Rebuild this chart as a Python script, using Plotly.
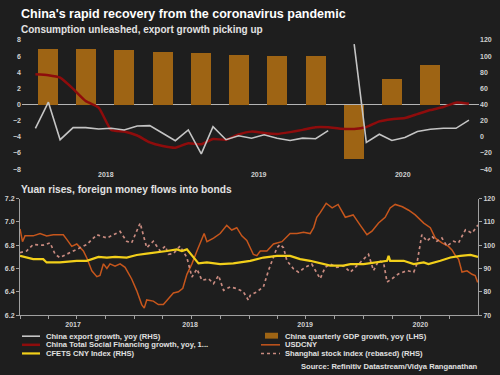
import plotly.graph_objects as go

# ---------------- DATA ----------------
# Top panel: monthly (mid-month) series
top_months = [
    "2018-01-15", "2018-02-15", "2018-03-15", "2018-04-15", "2018-05-15", "2018-06-15",
    "2018-07-15", "2018-08-15", "2018-09-15", "2018-10-15", "2018-11-15", "2018-12-15",
    "2019-01-15", "2019-02-15", "2019-03-15", "2019-04-15", "2019-05-15", "2019-06-15",
    "2019-07-15", "2019-08-15", "2019-09-15", "2019-10-15", "2019-11-15", "2019-12-15",
    "2020-01-15", "2020-02-15", "2020-03-15", "2020-04-15", "2020-05-15", "2020-06-15",
    "2020-07-15", "2020-08-15", "2020-09-15", "2020-10-15", "2020-11-15",
]
export_growth = [10.6, 43, -3.5, 11.4, 11.4, 9.8, 10.6, 8.6, 13.5, 13.9, 4.5, -4.7,
                 8.6, -21, 12.6, -3.5, 1.3, -1.6, 2.6, -1.6, -4.4, -1.6, -2.3, 7.8,
                 None, 115, -6.8, 3.3, -4.4, -0.7, 6.6, 9.4, 10.6, 10.6, 20.8]
tsf_growth = [3.75, 3.63, 3.33, 1.95, 0.45, -0.37, -3.14, -3.33, -3.83, -4.68, -5.13, -5.34,
              -4.78, -4.91, -4.26, -4.36, -3.70, -3.35, -3.53, -3.64, -3.41, -3.13, -2.80, -2.81,
              -3.0, -3.02, -2.77, -2.08, -1.81, -1.67, -1.18, -0.68, -0.30, 0.24, 0.10]

gdp_quarters = ["2018-02-15", "2018-05-15", "2018-08-15", "2018-11-15",
                "2019-02-15", "2019-05-15", "2019-08-15", "2019-11-15",
                "2020-02-15", "2020-05-15", "2020-08-15"]
gdp_growth = [6.9, 6.9, 6.7, 6.5, 6.4, 6.2, 6.0, 6.0, -6.8, 3.2, 4.9]

top_tick_dates = ["2018-07-02", "2019-07-02", "2020-06-10"]
top_tick_text = ["2018", "2019", "2020"]

# Bottom panel
usdcny_dates = [
    "2017-01-01", "2017-01-09", "2017-01-17", "2017-02-12", "2017-03-06", "2017-03-27",
    "2017-04-17", "2017-05-19", "2017-05-30", "2017-06-15", "2017-07-01", "2017-07-22",
    "2017-08-02", "2017-08-18", "2017-09-03", "2017-09-13", "2017-09-24", "2017-10-05",
    "2017-10-15", "2017-10-31", "2017-11-16", "2017-12-02", "2017-12-23", "2018-01-08",
    "2018-01-24", "2018-02-01", "2018-02-09", "2018-03-02", "2018-03-18", "2018-04-03",
    "2018-04-19", "2018-05-05", "2018-05-21", "2018-06-04", "2018-06-17", "2018-07-03",
    "2018-07-19", "2018-08-04", "2018-08-11", "2018-08-20", "2018-09-10", "2018-10-01",
    "2018-10-22", "2018-11-07", "2018-11-23", "2018-12-09", "2018-12-25", "2019-01-15",
    "2019-01-26", "2019-02-06", "2019-02-27", "2019-03-20", "2019-04-16", "2019-05-12",
    "2019-06-03", "2019-06-24", "2019-07-15", "2019-07-26", "2019-08-05", "2019-08-16",
    "2019-09-04", "2019-09-23", "2019-10-12", "2019-11-04", "2019-11-29", "2019-12-22",
    "2020-01-12", "2020-01-28", "2020-02-18", "2020-03-10", "2020-03-26", "2020-04-11",
    "2020-05-04", "2020-05-24", "2020-06-14", "2020-07-11", "2020-08-01", "2020-08-17",
    "2020-09-07", "2020-09-28", "2020-10-09", "2020-10-20", "2020-10-30", "2020-11-10",
    "2020-11-26", "2020-12-12", "2020-12-22", "2020-12-30",
]
usdcny = [
    6.94, 6.83, 6.88, 6.88, 6.90, 6.88, 6.89, 6.89, 6.85, 6.79, 6.81, 6.75,
    6.69, 6.58, 6.53, 6.54, 6.64, 6.60, 6.64, 6.62, 6.64, 6.61, 6.51, 6.41,
    6.29, 6.26, 6.33, 6.32, 6.29, 6.29, 6.34, 6.39, 6.40, 6.43, 6.55, 6.64,
    6.75, 6.85, 6.90, 6.83, 6.86, 6.90, 6.97, 6.93, 6.95, 6.88, 6.84, 6.72,
    6.71, 6.75, 6.75, 6.81, 6.83, 6.90, 6.90, 6.91, 6.90, 6.95, 7.04, 7.08,
    7.16, 7.12, 7.15, 7.04, 7.06, 6.97, 6.89, 6.92, 6.99, 7.04, 7.12, 7.15,
    7.13, 7.10, 7.06, 6.99, 6.95, 6.86, 6.82, 6.79, 6.76, 6.71, 6.68, 6.57,
    6.58, 6.55, 6.54, 6.48,
]

cfets_dates = [
    "2017-01-01", "2017-02-12", "2017-03-16", "2017-03-27", "2017-05-08", "2017-07-01",
    "2017-08-02", "2017-08-18", "2017-09-08", "2017-10-05", "2017-10-31", "2017-12-07",
    "2018-01-08", "2018-02-09", "2018-03-13", "2018-04-14", "2018-05-16", "2018-06-01",
    "2018-06-17", "2018-07-03", "2018-07-24", "2018-08-20", "2018-10-01", "2018-11-12",
    "2018-12-25", "2019-01-05", "2019-02-16", "2019-03-31", "2019-05-12", "2019-06-13",
    "2019-07-15", "2019-08-05", "2019-09-17", "2019-10-29", "2019-11-20", "2020-01-01",
    "2020-02-13", "2020-03-16", "2020-03-21", "2020-03-26", "2020-05-08", "2020-06-09",
    "2020-07-11", "2020-07-26", "2020-09-02", "2020-10-04", "2020-11-05", "2020-12-07",
    "2020-12-31",
]
cfets = [
    95.4, 94.0, 94.0, 92.6, 92.6, 93.3, 93.3, 94.0, 95.0, 94.7, 95.0, 94.7,
    95.8, 96.4, 96.8, 97.5, 98.2, 97.5, 98.2, 95.4, 92.2, 92.6, 91.9, 92.2,
    93.0, 93.3, 94.7, 95.4, 95.4, 94.0, 93.3, 92.6, 91.2, 91.2, 91.9, 91.9,
    92.6, 93.3, 95.4, 93.3, 93.3, 91.9, 92.6, 91.9, 93.3, 94.7, 95.4, 95.8,
    95.0,
]

shanghai_dates = [
    "2017-01-01", "2017-01-22", "2017-02-12", "2017-03-16", "2017-04-07", "2017-04-23",
    "2017-05-08", "2017-05-30", "2017-07-01", "2017-08-02", "2017-09-03", "2017-10-05",
    "2017-11-16", "2017-12-07", "2017-12-23", "2018-01-19", "2018-02-09", "2018-03-02",
    "2018-03-24", "2018-04-09", "2018-04-19", "2018-05-05", "2018-05-26", "2018-06-17",
    "2018-07-03", "2018-07-19", "2018-08-04", "2018-08-25", "2018-09-10", "2018-09-26",
    "2018-10-12", "2018-11-02", "2018-11-23", "2018-12-14", "2018-12-30", "2019-01-05",
    "2019-01-26", "2019-02-16", "2019-03-04", "2019-03-20", "2019-03-31", "2019-04-10",
    "2019-04-21", "2019-05-02", "2019-05-23", "2019-06-08", "2019-06-29", "2019-07-20",
    "2019-08-05", "2019-08-16", "2019-09-01", "2019-09-17", "2019-10-08", "2019-10-29",
    "2019-11-20", "2019-12-11", "2020-01-01", "2020-01-17", "2020-02-02", "2020-02-18",
    "2020-03-05", "2020-03-16", "2020-04-01", "2020-04-22", "2020-05-19", "2020-06-09",
    "2020-06-19", "2020-07-05", "2020-07-21", "2020-08-06", "2020-08-22", "2020-09-07",
    "2020-09-23", "2020-10-14", "2020-10-30", "2020-11-21", "2020-12-12", "2020-12-31",
]
shanghai = [
    96.8, 97.5, 100.3, 100.0, 101.0, 96.1, 94.7, 96.1, 98.2, 100.3, 104.5, 103.1,
    105.9, 101.7, 101.0, 109.5, 98.9, 101.7, 97.5, 99.6, 96.1, 96.4, 99.6, 94.7,
    86.3, 89.8, 84.9, 85.6, 83.5, 87.0, 80.6, 82.1, 81.4, 80.0, 76.4, 78.5,
    80.0, 82.1, 89.1, 94.7, 98.9, 100.3, 98.9, 93.3, 89.8, 88.4, 90.5, 91.9,
    88.4, 85.6, 90.5, 91.9, 90.5, 91.2, 88.4, 91.2, 94.0, 96.1, 89.1, 93.3,
    92.6, 84.2, 85.6, 87.7, 89.1, 88.4, 91.9, 104.5, 101.7, 103.8, 101.7, 103.1,
    99.6, 101.7, 101.0, 106.6, 105.2, 108.7,
]

bottom_tick_dates = ["2017-06-19", "2018-06-27", "2019-06-29", "2020-06-30"]
bottom_tick_text = ["2017", "2018", "2019", "2020"]

# ---------------- STYLE ----------------
W, H = 500, 375
BG = "#1e1e1e"
FONT = "Liberation Sans"
TICK_COLOR = "#d0d0d0"
C_EXPORT = "#c4c4c4"
C_TSF = "#8e0c0c"
C_GDP = "#9e6414"
C_USD = "#c6561c"
C_CFETS = "#f2cf1a"
C_SH = "#c98b80"
AXIS_LINE = "#a0a0a0"


def px(x):
    return x / W


def py(y):
    return 1 - y / H


tickfont = dict(family=FONT, size=7, color=TICK_COLOR, weight="bold")

fig = go.Figure()

# Top panel traces
fig.add_trace(go.Bar(x=gdp_quarters, y=gdp_growth, marker=dict(color=C_GDP, line=dict(width=0)),
                     width=47.7 * 86400000, xaxis="x", yaxis="y", showlegend=False))
fig.add_trace(go.Scatter(x=top_months, y=tsf_growth, mode="lines",
                         line=dict(color=C_TSF, width=2.5, shape="spline", smoothing=0.5),
                         xaxis="x", yaxis="y", showlegend=False))
fig.add_trace(go.Scatter(x=top_months, y=export_growth, mode="lines", line=dict(color=C_EXPORT, width=1.6),
                         xaxis="x", yaxis="y2", showlegend=False, connectgaps=False))

# Bottom panel traces
fig.add_trace(go.Scatter(x=usdcny_dates, y=usdcny, mode="lines", line=dict(color=C_USD, width=1.5),
                         xaxis="x2", yaxis="y3", showlegend=False))
fig.add_trace(go.Scatter(x=shanghai_dates, y=shanghai, mode="lines", line=dict(color=C_SH, width=1.7, dash="dot"),
                         xaxis="x2", yaxis="y4", showlegend=False))
fig.add_trace(go.Scatter(x=cfets_dates, y=cfets, mode="lines", line=dict(color=C_CFETS, width=2.2),
                         xaxis="x2", yaxis="y4", showlegend=False))

top_y_dom = [py(168.3), py(36.7)]
bot_y_dom = [py(317), py(198.3)]

fig.update_layout(
    width=W, height=H,
    margin=dict(l=0, r=0, t=0, b=0),
    paper_bgcolor=BG, plot_bgcolor=BG,
    font=dict(family=FONT, color=TICK_COLOR),
    bargap=0,
    xaxis=dict(domain=[px(22), px(479)], type="date", range=["2017-12-14", "2020-12-09"],
               tickmode="array", tickvals=top_tick_dates, ticktext=top_tick_text,
               showgrid=False, zeroline=False, showline=False, ticks="", tickfont=tickfont,
               anchor="y"),
    yaxis=dict(domain=top_y_dom, range=[-8, 8], tickmode="array", tickvals=[-8, -6, -4, -2, 0, 2, 4, 6, 8],
               showgrid=False, zeroline=True, zerolinecolor="#b4b4b4", zerolinewidth=1,
               showline=False, ticks="", tickfont=tickfont, anchor="x"),
    yaxis2=dict(domain=top_y_dom, range=[-40, 120], tickmode="array",
                tickvals=[-40, -20, 0, 20, 40, 60, 80, 100, 120],
                overlaying="y", side="right", showgrid=False, zeroline=False, showline=False,
                ticks="", tickfont=tickfont, anchor="x"),
    xaxis2=dict(domain=[px(20), px(478)], type="date", range=["2017-01-01", "2020-12-31"],
                tickmode="array", tickvals=bottom_tick_dates, ticktext=bottom_tick_text,
                showgrid=False, zeroline=False, showline=True, linecolor=AXIS_LINE, linewidth=1,
                ticks="", tickfont=tickfont, anchor="y3", ticklabelstandoff=3,
                minor=dict(ticks="outside", ticklen=3, tickcolor=AXIS_LINE, dtick="M3",
                           tick0="2017-01-01", showgrid=False)),
    yaxis3=dict(domain=bot_y_dom, range=[6.2, 7.2], tickmode="array",
                tickvals=[6.2, 6.4, 6.6, 6.8, 7.0, 7.2], tickformat=".1f",
                showgrid=False, zeroline=False, showline=True, linecolor=AXIS_LINE, linewidth=1,
                ticks="outside", ticklen=3, tickcolor=AXIS_LINE, tickfont=tickfont, anchor="x2"),
    yaxis4=dict(domain=bot_y_dom, range=[70, 120], tickmode="array",
                tickvals=[70, 80, 90, 100, 110, 120],
                overlaying="y3", side="right", showgrid=False, zeroline=False,
                showline=True, linecolor=AXIS_LINE, linewidth=1,
                ticks="outside", ticklen=3, tickcolor=AXIS_LINE, tickfont=tickfont, anchor="x2"),
    showlegend=False,
)

annotations = []
# Titles
annotations.append(dict(text="<b>China's rapid recovery from the coronavirus pandemic</b>",
                        x=px(19), y=py(10), xref="paper", yref="paper", xanchor="left", yanchor="middle",
                        showarrow=False, font=dict(family=FONT, size=12.5, color="#ffffff")))
annotations.append(dict(text="<b>Consumption unleashed, export growth picking up</b>",
                        x=px(19), y=py(25.5), xref="paper", yref="paper", xanchor="left", yanchor="middle",
                        showarrow=False, font=dict(family=FONT, size=10, color="#e2e2e2")))
annotations.append(dict(text="<b>Yuan rises, foreign money flows into bonds</b>",
                        x=px(19), y=py(189.5), xref="paper", yref="paper", xanchor="left", yanchor="middle",
                        showarrow=False, font=dict(family=FONT, size=10.2, color="#e2e2e2")))

# Manual legend
legend_font = dict(family=FONT, size=7.6, color="#e0e0e0")
rows = [338.5, 347.3, 356.1]
legend_items = [
    ("China export growth, yoy (RHS)", 44, rows[0]),
    ("China Total Social Financing growth, yoy, 1...", 44, rows[1]),
    ("CFETS CNY Index (RHS)", 44, rows[2]),
    ("China quarterly GDP growth, yoy (LHS)", 283, rows[0]),
    ("USDCNY", 283, rows[1]),
    ("Shanghai stock index (rebased) (RHS)", 283, rows[2]),
]
for text, xx, yy in legend_items:
    annotations.append(dict(text="<b>" + text + "</b>", x=px(xx), y=py(yy), xref="paper", yref="paper",
                            xanchor="left", yanchor="middle", showarrow=False, font=legend_font))

annotations.append(dict(text="<b>Source: Refinitiv Datastream/Vidya Ranganathan</b>",
                        x=px(480), y=py(369), xref="paper", yref="paper", xanchor="right", yanchor="middle",
                        showarrow=False, font=dict(family=FONT, size=7.6, color="#e0e0e0")))

shapes = []
shapes.append(dict(type="line", xref="paper", yref="paper", x0=px(22), x1=px(40), y0=py(rows[0]), y1=py(rows[0]),
                   line=dict(color=C_EXPORT, width=1.6)))
shapes.append(dict(type="line", xref="paper", yref="paper", x0=px(22), x1=px(40), y0=py(rows[1]), y1=py(rows[1]),
                   line=dict(color=C_TSF, width=2.5)))
shapes.append(dict(type="line", xref="paper", yref="paper", x0=px(22), x1=px(40), y0=py(rows[2]), y1=py(rows[2]),
                   line=dict(color=C_CFETS, width=2.2)))
shapes.append(dict(type="rect", xref="paper", yref="paper", x0=px(265), x1=px(278), y0=py(341), y1=py(335),
                   fillcolor=C_GDP, line=dict(width=0)))
shapes.append(dict(type="line", xref="paper", yref="paper", x0=px(261), x1=px(280), y0=py(rows[1]), y1=py(rows[1]),
                   line=dict(color=C_USD, width=1.5)))
shapes.append(dict(type="line", xref="paper", yref="paper", x0=px(261), x1=px(280), y0=py(rows[2]), y1=py(rows[2]),
                   line=dict(color=C_SH, width=1.4, dash="dot")))

fig.update_layout(annotations=annotations, shapes=shapes)

fig.write_html(
    "out.html",
    config={"displayModeBar": False},
    post_script="document.body.style.margin='0px';document.body.style.padding='0px';"
                "document.body.style.background='" + BG + "';document.body.style.overflow='hidden';",
)
